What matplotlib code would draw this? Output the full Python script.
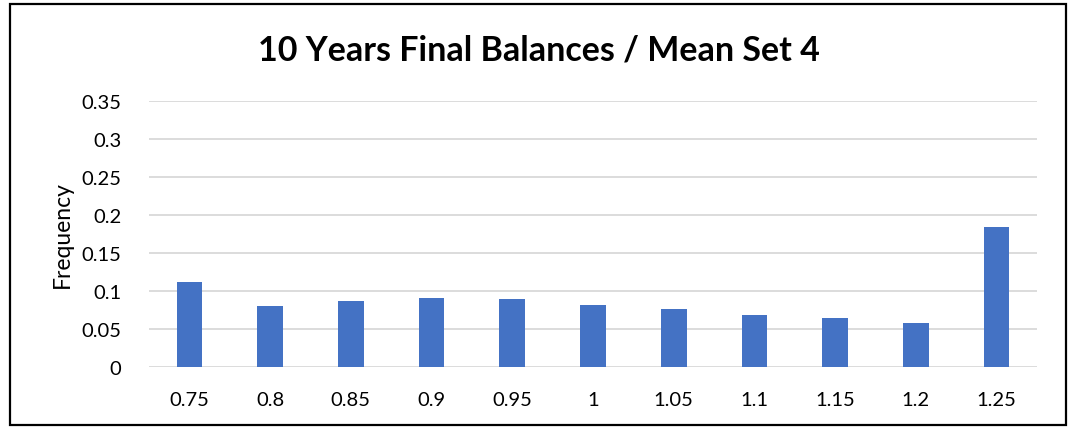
import matplotlib
matplotlib.use("Agg")
import matplotlib.pyplot as plt
from matplotlib.patches import Rectangle

plt.rcParams['font.family'] = ['Lato', 'DejaVu Sans']

categories = ['0.75', '0.8', '0.85', '0.9', '0.95', '1', '1.05', '1.1', '1.15', '1.2', '1.25']
frequency = [0.1114, 0.080, 0.0875, 0.091, 0.0898, 0.0814, 0.0764, 0.069, 0.0642, 0.058, 0.1843]
y_ticks = [0, 0.05, 0.1, 0.15, 0.2, 0.25, 0.3, 0.35]
y_labels = ['0', '0.05', '0.1', '0.15', '0.2', '0.25', '0.3', '0.35']

fig = plt.figure(figsize=(10.71, 4.31), dpi=100)
ax = fig.add_axes([149 / 1071, 1 - 368 / 431, 888 / 1071, 266 / 431])

x = range(len(categories))
ax.bar(x, frequency, width=0.317, color='#4472C4', zorder=3)

ax.set_xlim(-0.5, len(categories) - 0.5)
ax.set_ylim(0, 0.35)
ax.set_xticks(list(x))
ax.set_xticklabels(categories, fontsize=14.5)
ax.set_yticks(y_ticks)
ax.set_yticklabels(y_labels, fontsize=14.5)
ax.tick_params(length=0, pad=20)
ax.tick_params(axis='x', pad=17)
ax.grid(axis='y', color='#d9d9d9', linewidth=1.3, zorder=0)
for s in ax.spines.values():
    s.set_visible(False)
ax.set_ylabel('Frequency', fontsize=16.5)
ax.yaxis.set_label_coords(-(149 - 73) / 888, 0.5)

fig.text(539 / 1071, 1 - 50 / 431, '10 Years Final Balances / Mean Set 4',
         ha='center', va='center', fontsize=24.5, fontweight='bold')

# outer chart border
fig.patches.append(Rectangle((10 / 1071, 1 - 426 / 431), 1056 / 1071, 421 / 431,
                             transform=fig.transFigure, fill=False,
                             edgecolor='black', linewidth=1.6))

fig.savefig('out.png', dpi=100)
